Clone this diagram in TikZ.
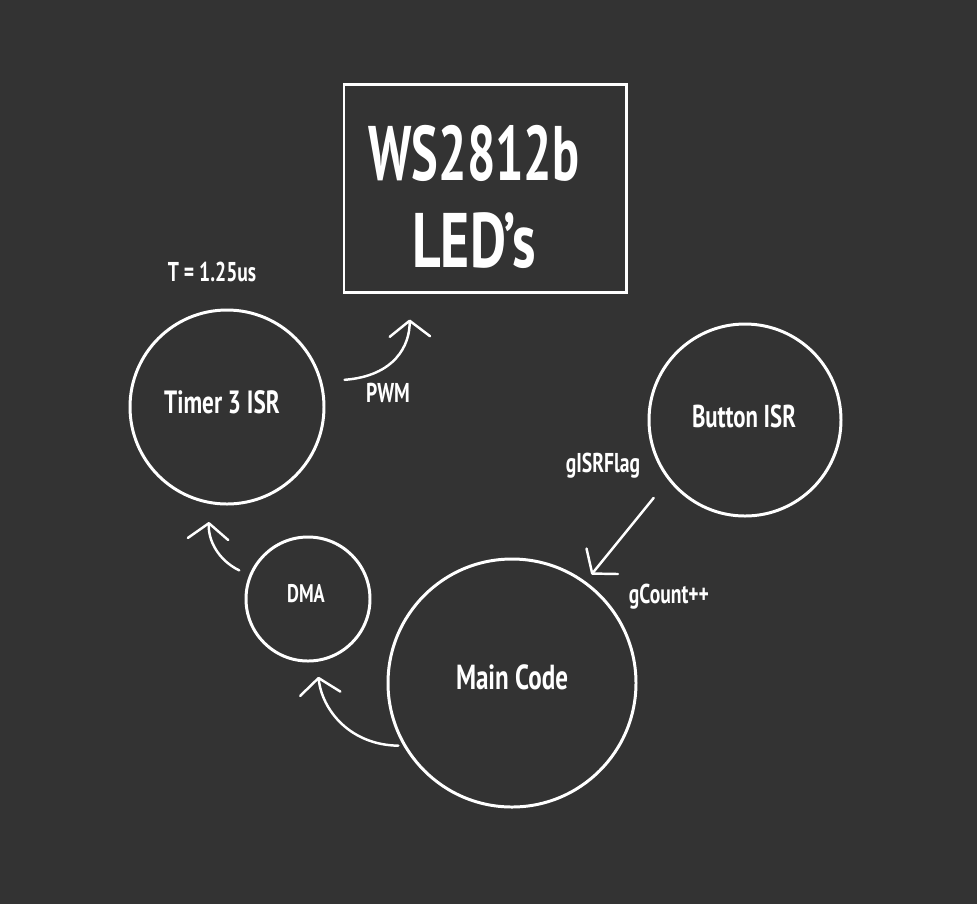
\documentclass[tikz,border=0pt]{standalone}
\usepackage{fontspec}
\setmainfont{PT Sans}[FakeStretch=0.72]
\newfontfamily\ledfont{PT Sans}[FakeStretch=0.65]
\usepackage{tikz}
\usetikzlibrary{arrows.meta,calc,positioning}
\definecolor{bgdark}{HTML}{333333}

\begin{document}
\begin{tikzpicture}[
        x=0.02cm, y=-0.02cm,
        every node/.style={text=white, font=\bfseries},
        isr/.style={draw=white, line width=1.7pt, circle, inner sep=0pt},
        note/.style={font=\bfseries\fontsize{15.5}{17}\selectfont},
        flow/.style={-{Straight Barb[length=9pt,width=23pt,round]}, white, line width=1.4pt, line cap=round}
    ]
        \fill[bgdark] (0,0) rectangle (977,904);
        \useasboundingbox (0,0) rectangle (977,904);
        \node[draw=white, line width=1.7pt, minimum width=282*0.02cm, minimum height=208*0.02cm, inner sep=0pt] (leds) at (485,188) {};
        \node[align=center, font=\bfseries\fontsize{44}{50}\selectfont] (ledtext) at (474,197) {{\ledfont WS2812b}\\LED's};
        \node[isr, minimum size=194*0.02cm] (timer) at (227,407) {};
        \node[font=\bfseries\fontsize{18.3}{20}\selectfont] (timertext) at (222,402) {Timer 3 ISR};
        \node[isr, minimum size=192*0.02cm] (button) at (745,420) {};
        \node[font=\bfseries\fontsize{18}{20}\selectfont] (buttontext) at (744,416) {Button ISR};
        \node[isr, minimum size=124*0.02cm] (dma) at (308,599) {};
        \node[font=\bfseries\fontsize{14.5}{16}\selectfont] (dmatext) at (306,594) {DMA};
        \node[isr, minimum size=248*0.02cm] (main) at (512,683) {};
        \node[font=\bfseries\fontsize{19.8}{22}\selectfont] (maintext) at (512,677) {Main Code};
        \node[note] (period) at (212,272) {T = 1.25us};
        \node[note] (pwm) at (388,393) {PWM};
        \node[note] (flag) at (603,466) {gISRFlag};
        \node[note] (count) at (669,597) {gCount++};
        \draw[flow, shorten <=0.45cm, shorten >=0.52cm] (timer.15) .. controls (395,376) and (410,345) .. ($(leds.south west)!0.234!(leds.south east)$);
        \draw[flow, shorten <=0.22cm, shorten >=0.36cm] (dma.158) .. controls (218,560) and (208,540) .. (timer.260);
        \draw[flow, shorten <=0.1cm, shorten >=0.3cm] (main.210) .. controls (350,745) and (322,710) .. (dma.278);
        \draw[flow, shorten <=0.46cm, shorten >=0.18cm] (button.218) -- (main.54);
    \end{tikzpicture}
\end{document}
